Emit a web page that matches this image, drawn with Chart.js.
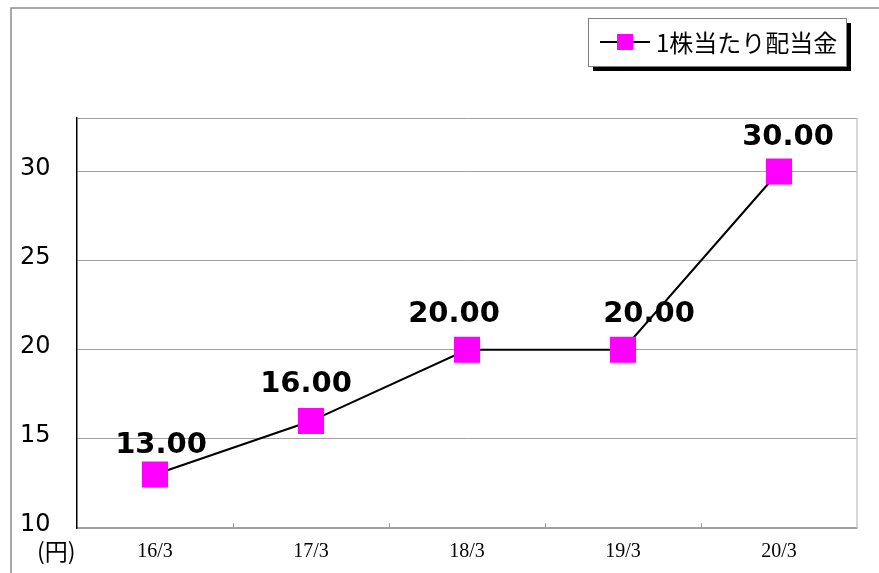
<!DOCTYPE html>
<html>
<head>
<meta charset="utf-8">
<script src="https://cdn.jsdelivr.net/npm/chart.js@4"></script>
<style>
  html, body { margin: 0; padding: 0; background: #fff; }
  #wrap { width: 879px; height: 573px; }
</style>
</head>
<body>
<div id="wrap"><canvas id="myChart"></canvas></div>
<script>
var labels = ['16/3', '17/3', '18/3', '19/3', '20/3'];
var dividend = [13, 16, 20, 20, 30];
var seriesName = '1株当たり配当金';
var unitLabel = '(円)';

// value label nudges (px), as placed in the original
var labelNudgeX = [6, -5, -13, 26, 9];
var labelNudgeY = [-22, -29, -28, -28, -26];

// outer frame, legend box, value labels, small x ticks
var decor = {
    id: 'decor',
    beforeDraw: function (chart) {
        var c = chart.ctx;
        c.save();
        c.fillStyle = '#fff';
        c.fillRect(0, 0, chart.width, chart.height);
        c.strokeStyle = '#8c8c8c';
        c.lineWidth = 1.5;
        c.beginPath();
        c.moveTo(11, chart.height);
        c.lineTo(11, 8);
        c.lineTo(chart.width, 8);
        c.stroke();
        c.restore();
    },
    beforeDatasetsDraw: function (chart) {
        var c = chart.ctx;
        var area = chart.chartArea;
        c.save();
        c.strokeStyle = '#c8c8c8';
        c.lineWidth = 1.5;
        c.beginPath();
        c.moveTo(area.right, area.top);
        c.lineTo(area.right, area.bottom);
        c.stroke();
        c.restore();
    },
    afterDatasetsDraw: function (chart) {
        var c = chart.ctx;
        var meta = chart.getDatasetMeta(0);
        c.save();
        c.font = 'bold 29px "DejaVu Sans"';
        c.fillStyle = '#000';
        c.textAlign = 'center';
        c.textBaseline = 'alphabetic';
        meta.data.forEach(function (pt, i) {
            c.fillText(dividend[i].toFixed(2), pt.x + labelNudgeX[i], pt.y + labelNudgeY[i]);
        });
        c.restore();
    },
    afterDraw: function (chart) {
        var c = chart.ctx;
        var xs = chart.scales.x;
        var area = chart.chartArea;
        c.save();
        // small tick marks at category boundaries
        c.strokeStyle = '#a0a0a0';
        c.lineWidth = 1;
        for (var i = 1; i < labels.length; i++) {
            var bx = (xs.getPixelForValue(i - 1) + xs.getPixelForValue(i)) / 2;
            c.beginPath();
            c.moveTo(Math.round(bx) + 0.5, area.bottom);
            c.lineTo(Math.round(bx) + 0.5, area.bottom - 5);
            c.stroke();
        }
        // unit label
        c.font = '23px "Noto Sans CJK JP"';
        c.fillStyle = '#000';
        c.textAlign = 'left';
        c.textBaseline = 'middle';
        c.fillText(unitLabel, 37, 551);

        // legend
        var lx = 588, ly = 18, lw = 258, lh = 48;
        c.fillStyle = '#000';
        c.fillRect(lx + 5, ly + 5, lw, lh);
        c.fillStyle = '#fff';
        c.fillRect(lx, ly, lw, lh);
        c.strokeStyle = '#808080';
        c.lineWidth = 1;
        c.strokeRect(lx + 0.5, ly + 0.5, lw, lh);
        c.strokeStyle = '#000';
        c.lineWidth = 2;
        c.beginPath();
        c.moveTo(600, 42);
        c.lineTo(650, 42);
        c.stroke();
        c.fillStyle = '#ff00ff';
        c.fillRect(617, 34, 16, 16);
        c.fillStyle = '#000';
        c.font = '24px "Noto Sans CJK JP"';
        c.textBaseline = 'middle';
        c.fillText(seriesName, 656, 43);
        c.restore();
    }
};

var ctx = document.getElementById('myChart').getContext('2d');
var myChart = new Chart(ctx, {
    type: 'line',
    data: {
        labels: labels,
        datasets: [{
            label: seriesName,
            data: dividend,
            borderColor: '#000',
            borderWidth: 2,
            backgroundColor: '#ff00ff',
            pointStyle: 'rect',
            pointRadius: 18.5,
            pointHoverRadius: 18.5,
            pointBorderWidth: 0,
            pointBackgroundColor: '#ff00ff',
            tension: 0
        }]
    },
    options: {
        responsive: true,
        maintainAspectRatio: false,
        animation: false,
        layout: {
            padding: { top: 118, left: 20, right: 22, bottom: 0 }
        },
        plugins: {
            legend: { display: false },
            tooltip: { enabled: false }
        },
        scales: {
            x: {
                offset: true,
                grid: { display: false, drawTicks: false },
                border: { display: true, color: '#a0a0a0', width: 1.5 },
                ticks: {
                    padding: 12,
                    color: '#000',
                    font: { family: '"Liberation Serif"', size: 20 }
                },
                afterFit: function (scale) { scale.height = 45; }
            },
            y: {
                min: 10,
                max: 33,
                grid: { color: '#a0a0a0', lineWidth: 1, drawTicks: false },
                border: { display: true, color: '#000', width: 1.5 },
                ticks: {
                    stepSize: 5,
                    crossAlign: 'far',
                    labelOffset: -3,
                    color: '#000',
                    font: { family: '"DejaVu Sans"', size: 24 },
                    callback: function (v) { return v % 5 === 0 ? v : ''; }
                },
                afterFit: function (scale) { scale.width = 57; }
            }
        }
    },
    plugins: [decor]
});
</script>
</body>
</html>
